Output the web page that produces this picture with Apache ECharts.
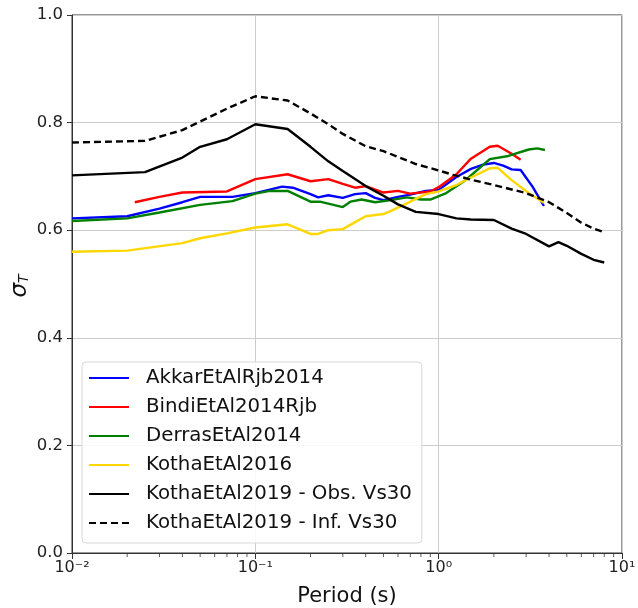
<!DOCTYPE html>
<html><head><meta charset="utf-8">
<script src="https://cdn.jsdelivr.net/npm/echarts@6/dist/echarts.min.js"></script>
<style>html,body{margin:0;padding:0;background:#fff}#c{width:638px;height:608px}</style>
</head><body><div id="c"></div>
<script>
const akkarT = [0.01,0.02,0.03,0.04,0.05,0.075,0.1,0.14,0.16,0.2,0.22,0.25,0.3,0.35,0.4,0.45,0.5,0.6,0.7,0.85,1.0,1.25,1.5,1.75,2.0,2.25,2.5,2.8,3.25,3.75];
const akkarV = [0.622,0.626,0.640,0.652,0.662,0.662,0.669,0.681,0.679,0.667,0.661,0.665,0.660,0.667,0.669,0.660,0.656,0.662,0.666,0.673,0.675,0.699,0.714,0.722,0.725,0.720,0.713,0.712,0.681,0.645];
const bindiT = [0.022,0.03,0.04,0.07,0.1,0.15,0.2,0.25,0.3,0.35,0.4,0.5,0.6,0.7,0.9,1.0,1.25,1.5,1.9,2.1,2.5,2.8];
const bindiV = [0.652,0.662,0.670,0.672,0.695,0.704,0.691,0.695,0.686,0.679,0.682,0.670,0.673,0.668,0.672,0.680,0.704,0.733,0.755,0.757,0.742,0.731];
const derrasT = [0.01,0.02,0.03,0.05,0.075,0.1,0.12,0.15,0.2,0.225,0.3,0.33,0.38,0.45,0.55,0.67,0.8,0.9,1.1,1.4,1.6,1.9,2.4,3.1,3.45,3.8];
const derrasV = [0.617,0.622,0.633,0.647,0.654,0.668,0.673,0.673,0.653,0.653,0.643,0.653,0.657,0.652,0.656,0.661,0.657,0.657,0.669,0.693,0.710,0.732,0.738,0.750,0.752,0.749];
const kotha16T = [0.01,0.02,0.04,0.05,0.07,0.1,0.15,0.2,0.22,0.25,0.3,0.35,0.4,0.5,0.55,0.67,0.85,1.0,1.25,1.5,1.9,2.1,2.5,3.1,3.75];
const kotha16V = [0.560,0.562,0.576,0.585,0.594,0.605,0.611,0.593,0.593,0.600,0.602,0.615,0.626,0.630,0.636,0.650,0.667,0.672,0.684,0.698,0.715,0.716,0.693,0.669,0.651];
const obsT = [0.01,0.025,0.04,0.05,0.07,0.1,0.15,0.2,0.25,0.3,0.4,0.5,0.6,0.75,1.0,1.25,1.5,2.0,2.5,3.0,4.0,4.5,5.0,6.0,7.0,8.0];
const obsV = [0.702,0.708,0.735,0.755,0.769,0.797,0.788,0.755,0.728,0.710,0.682,0.664,0.648,0.634,0.630,0.622,0.620,0.619,0.603,0.593,0.570,0.578,0.571,0.556,0.545,0.540];
const infT = [0.01,0.025,0.04,0.07,0.1,0.15,0.2,0.25,0.3,0.4,0.5,0.75,1.0,1.2,1.5,2.0,3.0,4.0,5.0,6.0,7.0,8.0];
const infV = [0.763,0.766,0.786,0.826,0.849,0.841,0.817,0.797,0.779,0.756,0.747,0.723,0.711,0.703,0.694,0.684,0.669,0.652,0.632,0.614,0.603,0.596];
const seriesNames = ['AkkarEtAlRjb2014','BindiEtAl2014Rjb','DerrasEtAl2014','KothaEtAl2016','KothaEtAl2019 - Obs. Vs30','KothaEtAl2019 - Inf. Vs30'];
const xTickLabels = {'0.01':'10\u207B\u00B2','0.1':'10\u207B\u00B9','1':'10\u2070','10':'10\u00B9'};
const minorTicks = [0.02,0.03,0.04,0.05,0.06,0.07,0.08,0.09,0.2,0.3,0.4,0.5,0.6,0.7,0.8,0.9,2,3,4,5,6,7,8,9];

function zip(t,v){return t.map((x,i)=>[x,v[i]]);}
const colors = ['#0000ff','#ff0000','#008000','#ffd700','#000000','#000000'];
const datasets = [zip(akkarT,akkarV),zip(bindiT,bindiV),zip(derrasT,derrasV),zip(kotha16T,kotha16V),zip(obsT,obsV),zip(infT,infV)];
const font = 'DejaVu Sans';
const series = datasets.map((d,i)=>({
  name: seriesNames[i], type:'line', data:d, showSymbol:false, symbol:'none', silent:true,
  lineStyle:{color:colors[i], width:2.4, type: i===5?[7,4]:'solid'}, itemStyle:{color:colors[i]},
  z: 3
}));
series.push({
  type:'scatter', data: minorTicks.map(t=>[t,0]), symbol:'rect', symbolSize:[1,4], symbolOffset:[0,2],
  itemStyle:{color:'#333'}, silent:true, clip:false, z:5
});
const chart = echarts.init(document.getElementById('c'));
chart.setOption({
  animation:false,
  backgroundColor:'#fff',
  grid:{left:72,right:16,top:15,bottom:55,show:true,borderColor:'#333',borderWidth:1,containLabel:false,outerBoundsMode:'none'},
  graphic:[{type:'text', x:20, y:286, rotation:Math.PI/2, silent:true,
    style:{text:'{a|\u03C3}{b|T}', align:'center', verticalAlign:'middle',
      rich:{a:{fontFamily:font,fontSize:23,fontStyle:'italic',fill:'#111'},b:{fontFamily:font,fontSize:14,fontStyle:'italic',fill:'#111',padding:[8,0,0,0]}}}}],
  xAxis:{type:'log',logBase:10,min:0.01,max:10,
    name:'Period (s)',nameLocation:'middle',nameGap:33,
    nameTextStyle:{fontFamily:font,fontSize:21,color:'#111'},
    axisLine:{show:true,onZero:false,lineStyle:{color:'#333'}},
    axisTick:{show:true,inside:false,length:6,lineStyle:{color:'#333'}},
    axisLabel:{fontFamily:font,fontSize:16,color:'#222',margin:7,formatter:v=>xTickLabels[String(+v.toPrecision(3))]||''},
    splitLine:{show:true,lineStyle:{color:'#cccccc',width:1}},
    minorTick:{show:false}},
  yAxis:{type:'value',min:0,max:1,interval:0.2,
    axisLine:{show:true,lineStyle:{color:'#333'}},
    axisTick:{show:true,inside:false,length:5,lineStyle:{color:'#333'}},
    axisLabel:{fontFamily:font,fontSize:16.5,color:'#222',margin:9,formatter:v=>v.toFixed(1)},
    splitLine:{show:true,lineStyle:{color:'#cccccc',width:1}}},
  legend:{orient:'vertical',left:82,top:362,data:seriesNames,
    itemWidth:40,itemHeight:14,itemGap:9,
    itemStyle:{opacity:0},
    backgroundColor:'rgba(255,255,255,0.85)',borderColor:'#d8d8d8',borderWidth:1,borderRadius:4,
    padding:[6,10,10,6],
    textStyle:{fontFamily:font,fontSize:19.8,lineHeight:20,color:'#111',padding:[0,0,0,12]},
    selectedMode:false},
  series:series
});
</script></body></html>
